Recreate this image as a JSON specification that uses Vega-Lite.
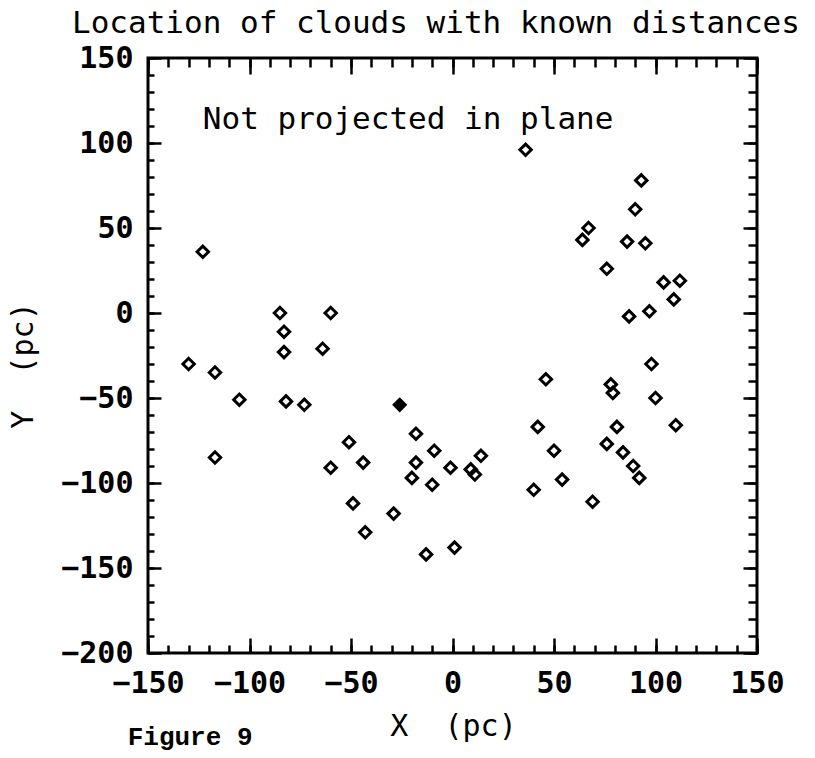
{
  "$schema": "https://vega.github.io/schema/vega-lite/v6.json",
  "width": 609,
  "height": 595,
  "autosize": "none",
  "padding": {"left": 148, "top": 58, "right": 58, "bottom": 105},
  "background": "white",
  "title": {
    "text": "Location of clouds with known distances",
    "anchor": "start",
    "frame": "group",
    "dx": -76,
    "dy": 21,
    "offset": 0,
    "baseline": "alphabetic",
    "font": "DejaVu Sans Mono",
    "fontSize": 31,
    "fontWeight": "normal",
    "color": "black"
  },
  "config": {
    "view": {"stroke": "black", "strokeWidth": 3},
    "axis": {
      "grid": false,
      "domain": false,
      "tickColor": "black",
      "tickWidth": 2.5,
      "labelColor": "black",
      "labelFont": "DejaVu Sans Mono",
      "labelFontSize": 30,
      "labelFontWeight": "bold",
      "labelFlush": false,
      "labelOverlap": false,
      "titleFont": "DejaVu Sans Mono",
      "titleFontSize": 30,
      "titleFontWeight": "normal",
      "titleColor": "black"
    }
  },
  "data": {
    "values": [
      {"x": -123, "y": 36, "kind": "open"},
      {"x": -85, "y": 0, "kind": "open"},
      {"x": -60, "y": 0, "kind": "open"},
      {"x": -83, "y": -11, "kind": "open"},
      {"x": -83, "y": -23, "kind": "open"},
      {"x": -64, "y": -21, "kind": "open"},
      {"x": -130, "y": -30, "kind": "open"},
      {"x": -117, "y": -35, "kind": "open"},
      {"x": -105, "y": -51, "kind": "open"},
      {"x": -82, "y": -52, "kind": "open"},
      {"x": -73, "y": -54, "kind": "open"},
      {"x": -117, "y": -85, "kind": "open"},
      {"x": -26, "y": -54, "kind": "filled"},
      {"x": -18, "y": -71, "kind": "open"},
      {"x": -9, "y": -81, "kind": "open"},
      {"x": -18, "y": -88, "kind": "open"},
      {"x": -1, "y": -91, "kind": "open"},
      {"x": -20, "y": -97, "kind": "open"},
      {"x": -10, "y": -101, "kind": "open"},
      {"x": -51, "y": -76, "kind": "open"},
      {"x": -44, "y": -88, "kind": "open"},
      {"x": -60, "y": -91, "kind": "open"},
      {"x": -49, "y": -112, "kind": "open"},
      {"x": -43, "y": -129, "kind": "open"},
      {"x": -29, "y": -118, "kind": "open"},
      {"x": -13, "y": -142, "kind": "open"},
      {"x": 1, "y": -138, "kind": "open"},
      {"x": 9, "y": -92, "kind": "open"},
      {"x": 11, "y": -95, "kind": "open"},
      {"x": 14, "y": -84, "kind": "open"},
      {"x": 46, "y": -39, "kind": "open"},
      {"x": 42, "y": -67, "kind": "open"},
      {"x": 50, "y": -81, "kind": "open"},
      {"x": 40, "y": -104, "kind": "open"},
      {"x": 54, "y": -98, "kind": "open"},
      {"x": 69, "y": -111, "kind": "open"},
      {"x": 78, "y": -42, "kind": "open"},
      {"x": 79, "y": -47, "kind": "open"},
      {"x": 81, "y": -67, "kind": "open"},
      {"x": 76, "y": -77, "kind": "open"},
      {"x": 84, "y": -82, "kind": "open"},
      {"x": 89, "y": -90, "kind": "open"},
      {"x": 92, "y": -97, "kind": "open"},
      {"x": 98, "y": -30, "kind": "open"},
      {"x": 100, "y": -50, "kind": "open"},
      {"x": 110, "y": -66, "kind": "open"},
      {"x": 36, "y": 96, "kind": "open"},
      {"x": 93, "y": 78, "kind": "open"},
      {"x": 90, "y": 61, "kind": "open"},
      {"x": 67, "y": 50, "kind": "open"},
      {"x": 64, "y": 43, "kind": "open"},
      {"x": 86, "y": 42, "kind": "open"},
      {"x": 95, "y": 41, "kind": "open"},
      {"x": 76, "y": 26, "kind": "open"},
      {"x": 104, "y": 18, "kind": "open"},
      {"x": 112, "y": 19, "kind": "open"},
      {"x": 109, "y": 8, "kind": "open"},
      {"x": 87, "y": -2, "kind": "open"},
      {"x": 97, "y": 1, "kind": "open"}
    ]
  },
  "resolve": {"axis": {"x": "independent", "y": "independent"}},
  "layer": [
    {
      "transform": [{"filter": "datum.kind === 'open'"}],
      "mark": {"type": "point", "shape": "diamond", "filled": false, "stroke": "black", "strokeWidth": 3, "size": 130, "opacity": 1},
      "encoding": {
        "x": {
          "field": "x", "type": "quantitative",
          "scale": {"domain": [-150, 150], "nice": false, "zero": false},
          "axis": {
            "orient": "bottom",
            "values": [-150, -100, -50, 0, 50, 100, 150],
            "tickSize": -15,
            "labelPadding": 45,
            "labelBaseline": "middle",
            "title": "X\u00a0\u00a0(pc)",
            "titleX": 305,
            "titleY": 82,
            "titleAlign": "center",
            "titleBaseline": "alphabetic"
          }
        },
        "y": {
          "field": "y", "type": "quantitative",
          "scale": {"domain": [-200, 150], "nice": false, "zero": false},
          "axis": {
            "orient": "left",
            "values": [-200, -150, -100, -50, 0, 50, 100, 150],
            "tickSize": -13,
            "labelPadding": 28,
            "labelBaseline": "middle",
            "title": "Y\u00a0\u00a0(pc)",
            "titleX": -125,
            "titleY": 307,
            "titleAngle": -90,
            "titleAlign": "center",
            "titleBaseline": "middle"
          }
        }
      }
    },
    {
      "transform": [{"filter": "datum.kind === 'filled'"}],
      "mark": {"type": "point", "shape": "diamond", "filled": true, "fill": "black", "size": 230, "opacity": 1},
      "encoding": {
        "x": {
          "field": "x", "type": "quantitative",
          "scale": {"domain": [-150, 150], "nice": false, "zero": false},
          "axis": {
            "orient": "bottom",
            "values": [-150, -140, -130, -120, -110, -100, -90, -80, -70, -60, -50, -40, -30, -20, -10, 0, 10, 20, 30, 40, 50, 60, 70, 80, 90, 100, 110, 120, 130, 140, 150],
            "tickSize": -8,
            "labels": false,
            "title": null
          }
        },
        "y": {
          "field": "y", "type": "quantitative",
          "scale": {"domain": [-200, 150], "nice": false, "zero": false},
          "axis": {
            "orient": "left",
            "values": [-200, -190, -180, -170, -160, -150, -140, -130, -120, -110, -100, -90, -80, -70, -60, -50, -40, -30, -20, -10, 0, 10, 20, 30, 40, 50, 60, 70, 80, 90, 100, 110, 120, 130, 140, 150],
            "tickSize": -6,
            "labels": false,
            "title": null
          }
        }
      }
    },
    {
      "data": {"values": [{"label": "Not projected in plane"}]},
      "mark": {"type": "text", "align": "left", "baseline": "alphabetic", "font": "DejaVu Sans Mono", "fontSize": 31, "color": "black"},
      "encoding": {
        "text": {"field": "label"},
        "x": {
          "datum": -123, "type": "quantitative",
          "scale": {"domain": [-150, 150], "nice": false, "zero": false},
          "axis": {
            "orient": "top",
            "values": [-150, -100, -50, 0, 50, 100, 150],
            "tickSize": -16,
            "labels": false,
            "title": null
          }
        },
        "y": {
          "datum": 108, "type": "quantitative",
          "scale": {"domain": [-200, 150], "nice": false, "zero": false},
          "axis": {
            "orient": "right",
            "values": [-200, -150, -100, -50, 0, 50, 100, 150],
            "tickSize": -14,
            "labels": false,
            "title": null
          }
        }
      }
    },
    {
      "data": {"values": [{"label": "Figure 9"}]},
      "mark": {"type": "text", "align": "left", "baseline": "alphabetic", "font": "Liberation Mono", "fontSize": 26, "fontWeight": "bold", "color": "black"},
      "encoding": {
        "text": {"field": "label"},
        "x": {
          "datum": -160, "type": "quantitative",
          "scale": {"domain": [-150, 150], "nice": false, "zero": false},
          "axis": {
            "orient": "top",
            "values": [-150, -140, -130, -120, -110, -100, -90, -80, -70, -60, -50, -40, -30, -20, -10, 0, 10, 20, 30, 40, 50, 60, 70, 80, 90, 100, 110, 120, 130, 140, 150],
            "tickSize": -9,
            "labels": false,
            "title": null
          }
        },
        "y": {
          "datum": -254, "type": "quantitative",
          "scale": {"domain": [-200, 150], "nice": false, "zero": false},
          "axis": {
            "orient": "right",
            "values": [-200, -190, -180, -170, -160, -150, -140, -130, -120, -110, -100, -90, -80, -70, -60, -50, -40, -30, -20, -10, 0, 10, 20, 30, 40, 50, 60, 70, 80, 90, 100, 110, 120, 130, 140, 150],
            "tickSize": -9,
            "labels": false,
            "title": null
          }
        }
      }
    }
  ]
}
